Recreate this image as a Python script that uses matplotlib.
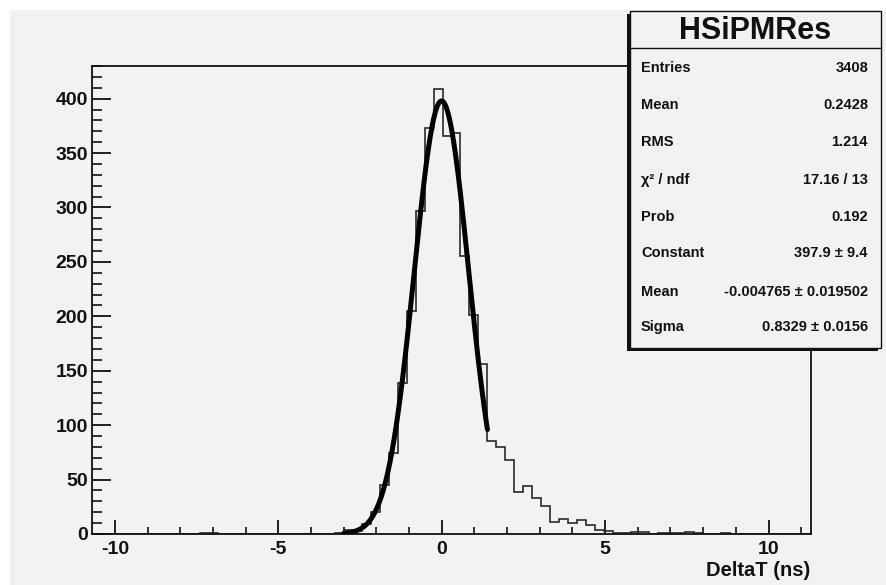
import numpy as np
import matplotlib
matplotlib.use("Agg")
import matplotlib.pyplot as plt
from matplotlib.patches import Rectangle
from matplotlib.lines import Line2D
from matplotlib.ticker import MultipleLocator

plt.rcParams['font.family'] = ['Liberation Sans', 'DejaVu Sans']
plt.rcParams['axes.unicode_minus'] = False

# ---- data ----
bin_low = -10.7
bin_width = 0.275
n_bins = 80
counts = [0] * 12 + [1, 1] + [0] * 13 + [
    1, 4, 3, 9, 20, 45, 74, 139, 205, 297, 373, 409, 366, 368, 255, 201, 156,
    85, 80, 68, 39, 44, 33, 26, 11, 14, 10, 13, 8, 4, 3, 1, 1, 2, 2, 0, 1, 1,
    1, 2, 1, 0, 0, 1] + [0] * 9
fit_const = 397.9
fit_mean = -0.004765
fit_sigma = 0.8329
fit_range = (-3.0, 1.4)

stats_title = "HSiPMRes"
stats_labels = ["Entries", "Mean", "RMS", "χ² / ndf", "Prob", "Constant", "Mean", "Sigma"]
stats_values = ["3408", "0.2428", "1.214", "17.16 / 13", "0.192",
                "397.9 ± 9.4", "-0.004765 ± 0.019502", "0.8329 ± 0.0156"]
x_label = "DeltaT (ns)"
x_ticks = [-10, -5, 0, 5, 10]
y_ticks = list(range(0, 401, 50))

W, H = 886, 585
BG = "#f2f2f2"
INK = "#111111"

fig = plt.figure(figsize=(W / 100, H / 100), dpi=100, facecolor="white")
fig.add_artist(Rectangle((10 / W, 0), 1, 1 - 10 / H, transform=fig.transFigure,
                         facecolor=BG, edgecolor="none", zorder=0))

def fx(px):
    return px / W

def fy(py):
    return 1 - py / H

ax = fig.add_axes([fx(92), fy(534), fx(811) - fx(92), fy(66) - fy(534)])
ax.set_facecolor(BG)
edges = bin_low + bin_width * np.arange(n_bins + 1)
ax.stairs(counts, edges, color="#2a2a2a", linewidth=1.2, baseline=0, zorder=2)

xf = np.linspace(fit_range[0], fit_range[1], 300)
yf = fit_const * np.exp(-0.5 * ((xf - fit_mean) / fit_sigma) ** 2)
ax.plot(xf, yf, color="black", linewidth=3.6, solid_capstyle="round", zorder=3)

ax.set_xlim(edges[0], edges[-1])
ax.set_ylim(0, 430)

for s in ax.spines.values():
    s.set_linewidth(1.3)
    s.set_color(INK)

ax.xaxis.set_major_locator(MultipleLocator(5))
ax.xaxis.set_minor_locator(MultipleLocator(1))
ax.yaxis.set_major_locator(MultipleLocator(50))
ax.yaxis.set_minor_locator(MultipleLocator(10))
ax.tick_params(axis="x", which="major", direction="in", length=10, width=1.3,
               pad=5, labelsize=14, colors=INK)
ax.tick_params(axis="x", which="minor", direction="in", length=5, width=1.2, colors=INK)
ax.tick_params(axis="y", which="major", direction="in", length=14, width=1.3,
               pad=3, labelsize=14, colors=INK)
ax.tick_params(axis="y", which="minor", direction="in", length=7, width=1.2, colors=INK)
ax.set_xticks(x_ticks)
ax.set_xticklabels([str(v) for v in x_ticks], fontweight="bold")
ax.set_yticks(y_ticks)
ax.set_yticklabels([str(v) for v in y_ticks], fontweight="bold")

fig.text(fx(810), fy(571), x_label, ha="right", va="center", fontsize=14.5,
         fontweight="bold", color=INK)

# stats box
bx0, bx1, by0, by1 = 630, 881, 11, 348
fig.add_artist(Rectangle((fx(bx0 - 3), fy(by1 + 3)), fx(bx1 - bx0), fy(by0) - fy(by1),
                         transform=fig.transFigure, facecolor=INK,
                         edgecolor="none", zorder=10))
fig.add_artist(Rectangle((fx(bx0), fy(by1)), fx(bx1 - bx0), fy(by0) - fy(by1),
                         transform=fig.transFigure, facecolor=BG,
                         edgecolor=INK, linewidth=1.0, zorder=11))
fig.add_artist(Line2D([fx(bx0), fx(bx1)], [fy(48), fy(48)], transform=fig.transFigure,
                      color=INK, linewidth=1.0, zorder=12))
fig.text(fx((bx0 + bx1) / 2), fy(31), stats_title, ha="center", va="center",
         fontsize=22, fontweight="bold", color=INK, zorder=13)
row_y = [68, 105, 142, 180, 217, 253, 292, 327]
for lab, val, yy in zip(stats_labels, stats_values, row_y):
    fig.text(fx(641), fy(yy), lab, ha="left", va="center", fontsize=10.5,
             fontweight="bold", color=INK, zorder=13)
    fig.text(fx(868), fy(yy), val, ha="right", va="center", fontsize=10.5,
             fontweight="bold", color=INK, zorder=13)

fig.savefig("out.png", dpi=100, facecolor="white")
